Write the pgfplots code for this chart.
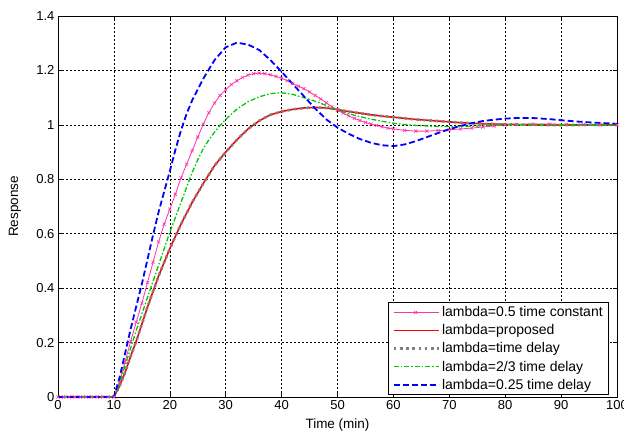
\documentclass[border=0pt]{standalone}
\usepackage{fontspec}
\setmainfont{Liberation Sans}
\usepackage{pgfplots}
\pgfplotsset{compat=1.18}
\definecolor{mpink}{RGB}{255,50,170}
\definecolor{mred}{RGB}{255,0,0}
\definecolor{mgray}{RGB}{128,128,128}
\definecolor{mgreen}{RGB}{0,200,0}
\definecolor{mblue}{RGB}{0,0,255}
\begin{document}
\begin{tikzpicture}
\useasboundingbox (-58bp,-36bp) rectangle (566bp,397bp);
\begin{axis}[
  at={(0,0)}, anchor=south west,
  scale only axis, width=559bp, height=381bp,
  xmin=0, xmax=100, ymin=0, ymax=1.4,
  xtick={0,10,...,100}, ytick={0,0.2,...,1.4},
  /pgf/number format/assume math mode=true,
  ticklabel style={font=\fontsize{13bp}{15bp}\selectfont},
  xlabel={Time (min)}, ylabel={Response},
  every axis x label/.style={at={(axis description cs:0.5,-0.0735)}, anchor=center, font=\fontsize{13.5bp}{15bp}\selectfont},
  every axis y label/.style={at={(axis description cs:-0.077,0.5)}, rotate=90, anchor=center, font=\fontsize{13.5bp}{15bp}\selectfont},
  grid=major,
  major grid style={black, line width=0.5bp, dash pattern=on 2bp off 2bp},
  axis line style={black, line width=0.6bp},
  tick style={black, line width=0.6bp},
  major tick length=4bp,
  legend cell align=left,
  legend style={at={(axis description cs:1,0)}, anchor=south east, xshift=-8bp, yshift=2bp,
    draw=black, fill=white, line width=0.6bp, font=\fontsize{14bp}{16bp}\selectfont,
    row sep=2.5bp, inner xsep=4bp, inner ysep=2bp},
  legend image code/.code={\draw[mark repeat=2,mark phase=2,#1] plot coordinates {(0bp,0bp) (22bp,0bp) (45bp,0bp)};},
]
% lambda=0.5 time constant
\addplot[mpink, line width=0.8bp, mark=x, mark size=2.2bp, mark options={solid, line width=0.6bp}] coordinates {
(0,0)(1,0)(2,0)(3,0)(4,0)(5,0)(6,0)(7,0)(8,0)(9,0)(10,0)
(11,0.055)(12,0.13)(13,0.205)(14,0.275)(15,0.345)(16,0.42)(17,0.495)(18,0.57)(19,0.635)(20,0.69)
(21,0.745)(22,0.805)(23,0.855)(24,0.905)(25,0.955)(26,1.003)(27,1.045)(28,1.08)(29,1.108)(30,1.13)
(31,1.148)(32,1.162)(33,1.174)(34,1.183)(35,1.188)(36,1.19)(37,1.188)(38,1.184)(39,1.178)(40,1.172)
(41,1.162)(42,1.152)(43,1.142)(44,1.133)(45,1.121)(46,1.108)(47,1.095)(48,1.081)(49,1.067)(50,1.054)
(51,1.043)(52,1.033)(53,1.024)(54,1.016)(55,1.009)(56,1.003)(57,0.998)(58,0.993)(59,0.988)(60,0.985)
(62,0.98)(64,0.977)(66,0.977)(68,0.979)(70,0.982)(72,0.985)(74,0.988)(76,0.992)(78,0.996)(80,1.0)
(82,1.002)(85,1.003)(88,1.003)(91,1.002)(94,1.001)(97,1.0)(100,1.0)};
\addlegendentry{lambda=0.5 time constant}
% lambda=proposed
\addplot[mred, line width=1.6bp] coordinates {
(0,0)(10,0)(11,0.04)(12,0.09)(13,0.15)(14,0.205)(16,0.33)(18,0.445)(20,0.545)(22,0.635)
(24,0.715)(26,0.785)(28,0.85)(30,0.9)(32,0.945)(34,0.985)(36,1.015)(38,1.037)(40,1.049)(42,1.057)
(44,1.062)(46,1.064)(48,1.062)(50,1.056)(52,1.049)(54,1.043)(56,1.037)(58,1.032)(60,1.028)(62,1.024)
(64,1.02)(66,1.017)(68,1.014)(70,1.011)(72,1.008)(74,1.006)(76,1.004)(78,1.003)(80,1.002)(85,1.0)
(90,0.999)(95,1.0)(100,1.0)};
\addlegendentry{lambda=proposed}
% lambda=time delay
\addplot[mgray, line width=2.6bp, dash pattern=on 2.6bp off 3.6bp] coordinates {
(0,0)(10,0)(11,0.04)(12,0.09)(13,0.15)(14,0.205)(16,0.33)(18,0.445)(20,0.545)(22,0.635)
(24,0.715)(26,0.785)(28,0.85)(30,0.9)(32,0.945)(34,0.985)(36,1.015)(38,1.037)(40,1.049)(42,1.057)
(44,1.062)(46,1.064)(48,1.062)(50,1.056)(52,1.049)(54,1.043)(56,1.037)(58,1.032)(60,1.028)(62,1.024)
(64,1.02)(66,1.017)(68,1.014)(70,1.011)(72,1.008)(74,1.006)(76,1.004)(78,1.003)(80,1.002)(85,1.0)
(90,0.999)(95,1.0)(100,1.0)};
\addlegendentry{lambda=time delay}
% lambda=2/3 time delay
\addplot[mgreen, line width=1.3bp, dash pattern=on 5bp off 2bp on 1.5bp off 2bp] coordinates {
(0,0)(10,0)(11,0.05)(12,0.115)(13,0.18)(14,0.245)(15,0.305)(16,0.365)(17,0.425)(18,0.485)(19,0.545)
(20,0.605)(21,0.66)(22,0.715)(23,0.77)(24,0.825)(25,0.872)(26,0.913)(27,0.945)(28,0.973)(29,0.998)
(30,1.02)(32,1.058)(34,1.085)(36,1.103)(38,1.115)(40,1.118)(42,1.112)(44,1.1)(46,1.087)(48,1.071)
(50,1.055)(52,1.041)(54,1.03)(56,1.021)(58,1.013)(60,1.006)(62,1.001)(64,0.998)(66,0.996)(68,0.994)
(70,0.994)(72,0.994)(74,0.995)(76,0.997)(78,0.999)(80,1.0)(85,1.001)(90,1.0)(100,1.0)};
\addlegendentry{lambda=2/3 time delay}
% lambda=0.25 time delay
\addplot[mblue, line width=1.8bp, dash pattern=on 6bp off 3bp] coordinates {
(0,0)(10,0)(11,0.07)(12,0.16)(13,0.25)(14,0.333)(15,0.415)(16,0.505)(17,0.595)(18,0.68)(19,0.755)
(20,0.83)(21,0.908)(22,0.98)(23,1.04)(24,1.09)(26,1.17)(28,1.238)(30,1.285)(32,1.302)(34,1.295)
(36,1.275)(38,1.238)(40,1.195)(42,1.15)(44,1.105)(46,1.06)(48,1.02)(50,0.99)(52,0.967)(54,0.948)
(56,0.934)(58,0.925)(60,0.922)(62,0.928)(64,0.94)(66,0.955)(68,0.97)(70,0.984)(72,0.996)(74,1.006)
(76,1.014)(78,1.019)(80,1.023)(82,1.025)(85,1.025)(88,1.021)(90,1.017)(93,1.012)(96,1.008)(100,1.004)};
\addlegendentry{lambda=0.25 time delay}
\end{axis}
\end{tikzpicture}
\end{document}
